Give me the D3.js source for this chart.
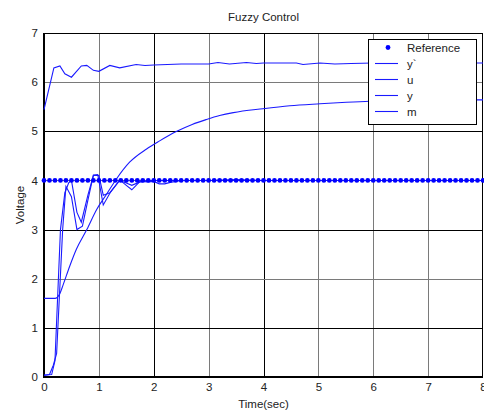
<!DOCTYPE html>
<html>
<head>
<meta charset="utf-8">
<script src="https://cdn.jsdelivr.net/npm/d3@7"></script>
<style>
  body { margin: 0; background: #fff; }
  text { font-family: "Liberation Sans", Arial, sans-serif; fill: #222; }
</style>
</head>
<body>
<svg id="chart" width="484" height="412"></svg>
<script>
// reference set point, sampled every 0.1 s
const refTimes = [0,0.1,0.2,0.3,0.4,0.5,0.6,0.7,0.8,0.9,1,1.1,1.2,1.3,1.4,1.5,1.6,1.7,1.8,1.9,
  2,2.1,2.2,2.3,2.4,2.5,2.6,2.7,2.8,2.9,3,3.1,3.2,3.3,3.4,3.5,3.6,3.7,3.8,3.9,
  4,4.1,4.2,4.3,4.4,4.5,4.6,4.7,4.8,4.9,5,5.1,5.2,5.3,5.4,5.5,5.6,5.7,5.8,5.9,
  6,6.1,6.2,6.3,6.4,6.5,6.6,6.7,6.8,6.9,7,7.1,7.2,7.3,7.4,7.5,7.6,7.7,7.8,7.9,8];
const refLevel = 4;

// y` (top curve)
const ypTime = [0,0.18,0.29,0.38,0.5,0.68,0.78,0.9,1.0,1.2,1.38,1.68,1.84,2.0,2.5,3.0,3.17,3.38,3.69,3.87,4.0,4.6,4.72,5.03,5.3,5.6,6.0,6.5,7.0,7.5,8];
const ypVal  = [5.44,6.29,6.33,6.17,6.1,6.33,6.34,6.24,6.22,6.34,6.29,6.36,6.34,6.35,6.37,6.37,6.4,6.37,6.4,6.38,6.39,6.39,6.36,6.39,6.37,6.38,6.39,6.39,6.39,6.39,6.39];

// u
const uTime = [0,0.14,0.2,0.3,0.38,0.45,0.5,0.6,0.68,0.8,0.9,1.0,1.08,1.2,1.38,1.5,1.6,1.75,1.9,2.0,2.5,3,4,5,6,7,8];
const uVal  = [0.04,0.05,0.33,3.0,3.75,3.95,4.0,3.35,3.15,3.7,4.1,4.1,3.7,3.75,4.0,3.95,3.9,3.97,3.99,4.0,4.0,4.0,4.0,4.0,4.0,4.0,4.0];

// y
const yTime = [0,0.1,0.17,0.23,0.34,0.4,0.5,0.6,0.7,0.8,0.9,0.98,1.08,1.2,1.38,1.5,1.6,1.75,1.9,2.0,2.1,2.2,2.3,2.5,3,3.5,4,5,6,7,8];
const yVal  = [0.03,0.05,0.24,0.48,3.0,3.88,3.67,3.0,3.07,3.6,4.11,4.12,3.5,3.74,4.01,3.9,3.81,3.98,3.97,3.98,3.93,3.93,3.96,4.0,4.0,4.02,4.0,4.0,4.0,4.0,4.0];

// m (slow curve)
const mTime = [0,0.2,0.29,0.35,0.47,0.59,0.78,0.96,1.14,1.32,1.56,1.87,2.1,2.42,2.7,2.96,3.2,3.45,3.99,4.48,5.03,5.51,5.94,6.5,7,7.5,8];
const mVal  = [1.6,1.6,1.7,1.88,2.26,2.6,3.0,3.41,3.72,4.03,4.37,4.64,4.8,5.0,5.14,5.24,5.32,5.38,5.46,5.52,5.56,5.59,5.61,5.62,5.63,5.64,5.64];

const xTicks = [0,1,2,3,4,5,6,7,8];
const yTicks = [0,1,2,3,4,5,6,7];
const legendLabels = ['Reference', 'y`', 'u', 'y', 'm'];

const svg = d3.select('#chart');
const margin = { top: 33, right: 1, bottom: 35, left: 44 };
const width = +svg.attr('width');
const height = +svg.attr('height');
const fontSize = 11.5;

const xScale = d3.scaleLinear().domain([0, 8]).range([margin.left, width - margin.right]);
const yScale = d3.scaleLinear().domain([0, 7]).range([height - margin.bottom, margin.top]);

// grid lines, some drawn darker than others like in the original
const darkX = [2, 4];
const darkY = [1, 3, 5];
svg.append('g').selectAll('line').data(xTicks.slice(1, -1)).enter().append('line')
  .attr('x1', d => Math.round(xScale(d)) + 0.5).attr('x2', d => Math.round(xScale(d)) + 0.5)
  .attr('y1', yScale(7)).attr('y2', yScale(0))
  .attr('stroke', d => darkX.includes(d) ? '#000' : '#7a7a7a')
  .attr('stroke-width', 1);
svg.append('g').selectAll('line').data(yTicks.slice(1, -1)).enter().append('line')
  .attr('y1', d => Math.round(yScale(d)) + 0.5).attr('y2', d => Math.round(yScale(d)) + 0.5)
  .attr('x1', xScale(0)).attr('x2', xScale(8))
  .attr('stroke', d => darkY.includes(d) ? '#000' : '#7a7a7a')
  .attr('stroke-width', 1);

// axes
const xAxis = d3.axisBottom(xScale).tickValues(xTicks).tickSize(0).tickPadding(6).tickFormat(d3.format('d'));
const yAxis = d3.axisLeft(yScale).tickValues(yTicks).tickSize(0).tickPadding(6).tickFormat(d3.format('d'));

const xAxisG = svg.append('g').attr('transform', `translate(0,${yScale(0)})`).call(xAxis);
xAxisG.select('.domain').remove();
xAxisG.selectAll('text').attr('font-size', fontSize).attr('font-family', '"Liberation Sans", Arial, sans-serif').attr('fill', '#222');

const yAxisG = svg.append('g').attr('transform', `translate(${xScale(0)},0)`).call(yAxis);
yAxisG.select('.domain').remove();
yAxisG.selectAll('text').attr('font-size', fontSize).attr('font-family', '"Liberation Sans", Arial, sans-serif').attr('fill', '#222');

// frame
svg.append('line').attr('x1', xScale(0)).attr('x2', xScale(8)).attr('y1', yScale(7) + 0.5).attr('y2', yScale(7) + 0.5).attr('stroke', '#000');
svg.append('line').attr('x1', xScale(8) - 0.5).attr('x2', xScale(8) - 0.5).attr('y1', yScale(7)).attr('y2', yScale(0)).attr('stroke', '#000');
svg.append('line').attr('x1', xScale(0)).attr('x2', xScale(8)).attr('y1', yScale(0)).attr('y2', yScale(0)).attr('stroke', '#000').attr('stroke-width', 2);
svg.append('line').attr('x1', xScale(0)).attr('x2', xScale(0)).attr('y1', yScale(7)).attr('y2', yScale(0) + 1).attr('stroke', '#000').attr('stroke-width', 2);

// curves
const line = d3.line().x(d => xScale(d[0])).y(d => yScale(d[1]));
const smoothLine = d3.line().x(d => xScale(d[0])).y(d => yScale(d[1])).curve(d3.curveMonotoneX);
const series = [
  { pts: d3.zip(ypTime, ypVal), gen: line },
  { pts: d3.zip(uTime, uVal), gen: line },
  { pts: d3.zip(yTime, yVal), gen: line },
  { pts: d3.zip(mTime, mVal), gen: smoothLine }
];
svg.append('g').selectAll('path').data(series).enter().append('path')
  .attr('d', d => d.gen(d.pts))
  .attr('fill', 'none')
  .attr('stroke', '#1a1aff')
  .attr('stroke-width', 1.1);

// reference dots
svg.append('g').selectAll('circle').data(refTimes).enter().append('circle')
  .attr('cx', d => xScale(d))
  .attr('cy', yScale(refLevel))
  .attr('r', 2.4)
  .attr('fill', '#0000ff');

// titles
svg.append('text').attr('x', (xScale(0) + xScale(8)) / 2).attr('y', 21)
  .attr('text-anchor', 'middle').attr('font-size', fontSize).text('Fuzzy Control');
svg.append('text').attr('x', (xScale(0) + xScale(8)) / 2).attr('y', 408)
  .attr('text-anchor', 'middle').attr('font-size', fontSize).text('Time(sec)');
svg.append('text').attr('transform', `translate(24,${(yScale(0) + yScale(7)) / 2}) rotate(-90)`)
  .attr('text-anchor', 'middle').attr('font-size', fontSize).text('Voltage');

// legend
const legend = svg.append('g').attr('transform', 'translate(368,39)');
legend.append('rect').attr('x', 0.5).attr('y', 0.5).attr('width', 108).attr('height', 85)
  .attr('fill', '#fff').attr('stroke', '#000');
const item = legend.selectAll('.item').data(legendLabels).enter().append('g')
  .attr('class', 'item')
  .attr('transform', (d, i) => `translate(0,${8.5 + i * 16})`);
item.filter((d, i) => i === 0).append('circle').attr('cx', 20).attr('cy', 0).attr('r', 2.4).attr('fill', '#0000ff');
item.filter((d, i) => i > 0).append('line').attr('x1', 7).attr('x2', 30).attr('y1', 0).attr('y2', 0)
  .attr('stroke', '#1a1aff').attr('stroke-width', 1.1);
item.append('text').attr('x', 39).attr('y', 4).attr('font-size', fontSize).text(d => d);
</script>
</body>
</html>
